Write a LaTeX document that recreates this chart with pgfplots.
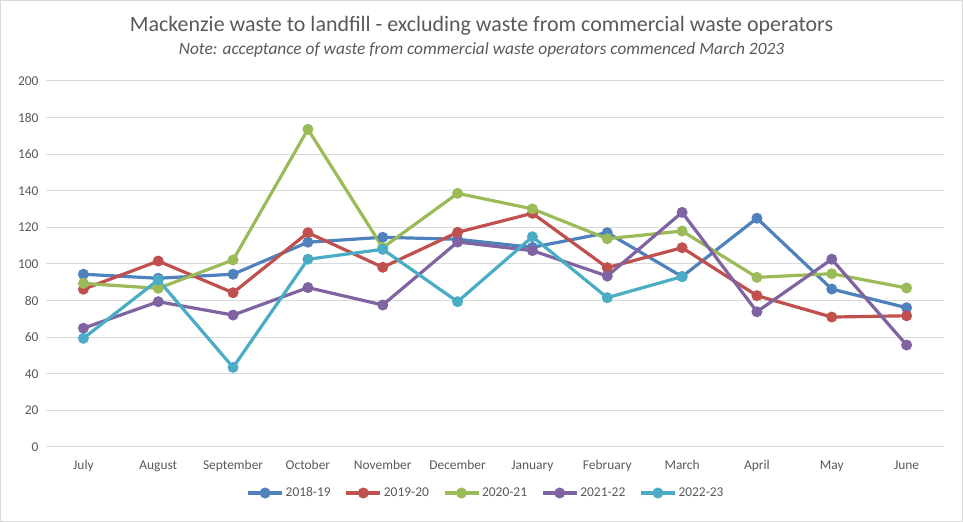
\documentclass[border=0pt]{standalone}
\usepackage{pgfplots}
\pgfplotsset{compat=1.18}
\usepackage{fontspec}
\setmainfont{Carlito}
\definecolor{c1}{HTML}{4F81BD}
\definecolor{c2}{HTML}{C0504D}
\definecolor{c3}{HTML}{9BBB59}
\definecolor{c4}{HTML}{8064A2}
\definecolor{c5}{HTML}{4BACC6}
\definecolor{txt}{HTML}{595959}
\definecolor{grid}{HTML}{D9D9D9}
\begin{document}
\begin{tikzpicture}[x=1bp,y=1bp]
\path[use as bounding box] (0,0) rectangle (963,522);
\draw[color=grid, line width=1bp] (0.5,0.5) rectangle (962.5,521.5);
\node[text=txt, font=\fontsize{22}{26}\selectfont] at (481.5,496) {Mackenzie waste to landfill - excluding waste from commercial waste operators};
\node[text=txt, font=\fontsize{17.4}{20}\selectfont\itshape] at (481.5,472) {Note: acceptance of waste from commercial waste operators commenced March 2023};
\begin{axis}[
  at={(46bp,75bp)}, anchor=south west,
  scale only axis, width=898bp, height=366bp,
  xmin=-0.5, xmax=11.5, ymin=0, ymax=200,
  xtick={0,...,11},
  xticklabels={July,August,September,October,November,December,January,February,March,April,May,June},
  ytick={0,20,...,200},
  ymajorgrids, grid style={color=grid, line width=1bp},
  axis line style={draw=none},
  major tick length=0pt,
  tick label style={text=txt, font=\fontsize{13.5}{16}\selectfont},
  /pgf/number format/assume math mode=true,
  xticklabel style={yshift=-10bp},
  yticklabel style={xshift=-4bp},
  every axis plot/.append style={line width=3.2bp, mark=*, mark size=3.8bp, mark options={solid}},
  legend style={at={(0.5,-75bp+29bp)}, xshift=-9bp, anchor=center, draw=none, fill=none, legend columns=5,
    font=\fontsize{13.5}{16}\selectfont, text=txt, /tikz/every even column/.append style={column sep=12bp}},
  legend cell align=left,
  legend image code/.code={\draw[#1, line width=3.2bp] (0bp,0bp) -- (34bp,0bp); \fill[#1] (17bp,0bp) circle (3.8bp);},
]
\addplot[color=c1] coordinates {(0,94.4) (1,92.2) (2,94.4) (3,111.9) (4,114.6) (5,113.5) (6,109.1) (7,117.1) (8,93.1) (9,125.0) (10,86.3) (11,76.1)};
\addlegendentry{2018-19}
\addplot[color=c2] coordinates {(0,86.2) (1,101.6) (2,84.3) (3,117.1) (4,98.2) (5,117.3) (6,127.7) (7,98.0) (8,108.9) (9,82.7) (10,71.0) (11,71.7)};
\addlegendentry{2019-20}
\addplot[color=c3] coordinates {(0,89.4) (1,86.7) (2,102.2) (3,173.6) (4,108.9) (5,138.6) (6,130.1) (7,113.8) (8,118.0) (9,92.7) (10,94.7) (11,86.9)};
\addlegendentry{2020-21}
\addplot[color=c4] coordinates {(0,64.9) (1,79.4) (2,72.1) (3,87.1) (4,77.6) (5,112.0) (6,107.3) (7,93.4) (8,128.2) (9,73.9) (10,102.6) (11,55.7)};
\addlegendentry{2021-22}
\addplot[color=c5] coordinates {(0,59.4) (1,91.3) (2,43.5) (3,102.6) (4,108.0) (5,79.4) (6,114.9) (7,81.6) (8,93.1)};
\addlegendentry{2022-23}
\end{axis}
\end{tikzpicture}
\end{document}
